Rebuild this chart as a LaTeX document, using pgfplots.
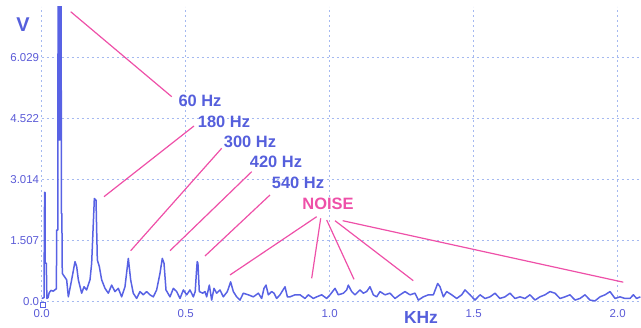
\documentclass[border=0pt]{standalone}
\usepackage{pgfplots}
\pgfplotsset{compat=1.18}
\usepackage{fontspec}
\setmainfont{Liberation Sans}
\definecolor{sig}{RGB}{88,98,228}
\definecolor{tcol}{RGB}{90,90,215}
\definecolor{grd}{RGB}{165,185,240}
\definecolor{mag}{RGB}{238,80,168}
\definecolor{lbl}{RGB}{85,95,220}
\begin{document}
\begin{tikzpicture}
\begin{axis}[
 scale only axis, width=599.3bp, height=295bp,
 xmin=0, xmax=2.081, ymin=0, ymax=7.288,
 axis line style={draw=none},
 major tick length=0pt,
 xtick={0,0.5,1,1.5,2}, xticklabels={0.0,0.5,1.0,1.5,2.0},
 ytick={0,1.507,3.014,4.522,6.029}, yticklabels={0.0,1.507,3.014,4.522,6.029},
 grid=major,
 major grid style={grd, line width=0.9bp, dash pattern=on 2bp off 3bp},
 tick label style={font=\fontsize{11.5}{13}\selectfont, text=tcol},
 yticklabel style={inner sep=0pt, xshift=-2.4bp},
 xticklabel style={inner sep=0pt, yshift=-8bp},
 clip mode=individual,
 /pgf/number format/assume math mode=true,
]
\addplot[sig, line width=1.5bp, line join=round] coordinates {
(0.000,0.08) (0.008,0.10) (0.010,2.70) (0.0115,2.70) (0.012,0.95) (0.016,0.95)
(0.018,0.08) (0.022,0.10) (0.026,0.22) (0.032,0.28) (0.040,0.26) (0.047,0.30)
(0.051,0.32) (0.052,1.77) (0.056,1.77) (0.057,9) (0.0577,4) (0.0584,9) (0.0591,4)
(0.0598,9) (0.0605,4) (0.0612,9) (0.0619,4) (0.0626,9) (0.0633,4) (0.064,9)
(0.0647,4) (0.0654,9) (0.0661,4) (0.0668,9) (0.0675,9) (0.0682,2.18) (0.070,2.18) (0.0715,0.70)
(0.0751,0.66) (0.0867,0.54) (0.0925,0.12) (0.104,0.54) (0.1156,0.99) (0.1214,0.87)
(0.1272,0.54) (0.1388,0.21) (0.147,0.37) (0.156,0.29) (0.1677,0.54) (0.1735,0.95)
(0.1828,2.55) (0.1886,2.51) (0.1932,1.03) (0.2001,0.87) (0.2082,0.54) (0.2198,0.33)
(0.2313,0.21) (0.2429,0.41) (0.2545,0.25) (0.266,0.33) (0.2776,0.12) (0.2892,0.37)
(0.3008,1.07) (0.3089,0.54) (0.318,0.21) (0.3297,0.08) (0.3413,0.25) (0.3529,0.17)
(0.3644,0.25) (0.376,0.17) (0.3876,0.12) (0.3991,0.29) (0.4107,0.70) (0.4188,1.07)
(0.4247,0.95) (0.4316,0.29) (0.4455,0.12) (0.4571,0.33) (0.4687,0.25) (0.4802,0.08)
(0.4918,0.29) (0.5034,0.17) (0.515,0.29) (0.5266,0.12) (0.533,0.25) (0.5375,0.75)
(0.540,0.99) (0.5425,0.95) (0.5473,0.25) (0.5589,0.21) (0.567,0.25) (0.5728,0.12)
(0.5821,0.41) (0.5902,0.04) (0.5983,0.33) (0.6076,0.21) (0.6191,0.29) (0.6307,0.12)
(0.6446,0.25) (0.6561,0.49) (0.6654,0.25) (0.677,0.12) (0.6886,0.04) (0.7001,0.21)
(0.7175,0.17) (0.7349,0.12) (0.7523,0.21) (0.7638,0.08) (0.7719,0.33) (0.7789,0.41)
(0.787,0.17) (0.7986,0.25) (0.8067,0.21) (0.8159,0.08) (0.8275,0.17) (0.8449,0.37)
(0.853,0.12) (0.8622,0.12) (0.8796,0.17) (0.897,0.17) (0.9143,0.08) (0.9259,0.17)
(0.9433,0.08) (0.9549,0.12) (0.9722,0.17) (0.9896,0.08) (1.0012,0.17) (1.0186,0.33)
(1.0301,0.17) (1.0475,0.21) (1.0591,0.29) (1.0647,0.41) (1.0763,0.25) (1.0879,0.17)
(1.1052,0.29) (1.1168,0.21) (1.1284,0.25) (1.14,0.37) (1.1515,0.17) (1.1631,0.12)
(1.1747,0.25) (1.1921,0.17) (1.2094,0.21) (1.2268,0.08) (1.2442,0.17) (1.2615,0.25)
(1.2789,0.17) (1.2963,0.21) (1.3079,0.04) (1.3252,0.12) (1.3426,0.17) (1.36,0.17)
(1.375,0.45) (1.3831,0.37) (1.3947,0.12) (1.4063,0.25) (1.4236,0.17) (1.441,0.08)
(1.4584,0.17) (1.4699,0.29) (1.4873,0.17) (1.5046,0.04) (1.522,0.17) (1.5394,0.08)
(1.5567,0.12) (1.5741,0.21) (1.591,0.08) (1.6087,0.12) (1.626,0.21) (1.6434,0.08)
(1.6608,0.12) (1.6781,0.08) (1.6955,0.17) (1.7129,0.04) (1.7302,0.12) (1.7476,0.17)
(1.765,0.25) (1.7823,0.21) (1.7997,0.08) (1.8171,0.12) (1.8344,0.17) (1.8518,0.04)
(1.8692,0.08) (1.8866,0.17) (1.9039,0.04) (1.9213,0.02) (1.9387,0.12) (1.956,0.17)
(1.9734,0.25) (1.9908,0.08) (2.0081,0.12) (2.0255,0.08) (2.0428,0.08) (2.0544,0.17)
(2.066,0.08) (2.0787,0.12)
};
% annotation lines
\begin{scope}[mag, line width=1.2bp]
\draw (axis cs:0.1007,7.164) -- (axis cs:0.4514,5.065);
\draw (axis cs:0.2163,2.594) -- (axis cs:0.5288,4.341);
\draw (axis cs:0.309,1.260) -- (axis cs:0.625,3.790);
\draw (axis cs:0.4455,1.260) -- (axis cs:0.7292,3.212);
\draw (axis cs:0.567,1.129) -- (axis cs:0.7927,2.636);
\draw (axis cs:0.6538,0.660) -- (axis cs:0.9549,2.100);
\draw (axis cs:0.9375,0.578) -- (axis cs:0.9688,2.060);
\draw (axis cs:1.0844,0.553) -- (axis cs:0.9896,2.018);
\draw (axis cs:1.2903,0.519) -- (axis cs:1.0184,2.001);
\draw (axis cs:2.0194,0.482) -- (axis cs:1.0451,2.001);
\end{scope}
\begin{scope}[every node/.style={font=\bfseries\fontsize{16.5}{18}\selectfont, inner sep=0pt}]
\node[lbl] at (axis cs:0.5497,4.957) {60 Hz};
\node[lbl] at (axis cs:0.633,4.440) {180 Hz};
\node[lbl] at (axis cs:0.7233,3.945) {300 Hz};
\node[lbl] at (axis cs:0.8135,3.451) {420 Hz};
\node[lbl] at (axis cs:0.8899,2.932) {540 Hz};
\node[mag] at (axis cs:0.9941,2.414) {NOISE};
\end{scope}
\node[lbl, font=\bfseries\fontsize{20}{22}\selectfont, inner sep=0pt] at (axis cs:-0.065,6.836) {V};
\node[lbl, font=\bfseries\fontsize{17.5}{19}\selectfont, inner sep=0pt] at (axis cs:1.317,-0.39) {KHz};
\draw[sig, line width=0.6bp] (axis cs:-0.0059,-0.007) rectangle (axis cs:0.0115,-0.131);
\coordinate (bbll) at (rel axis cs:-0.06958,-0.08915);
\coordinate (bbur) at (rel axis cs:1,1.02271);
\end{axis}
\pgfresetboundingbox
\path[use as bounding box] (bbll) rectangle (bbur);
\end{tikzpicture}
\end{document}
